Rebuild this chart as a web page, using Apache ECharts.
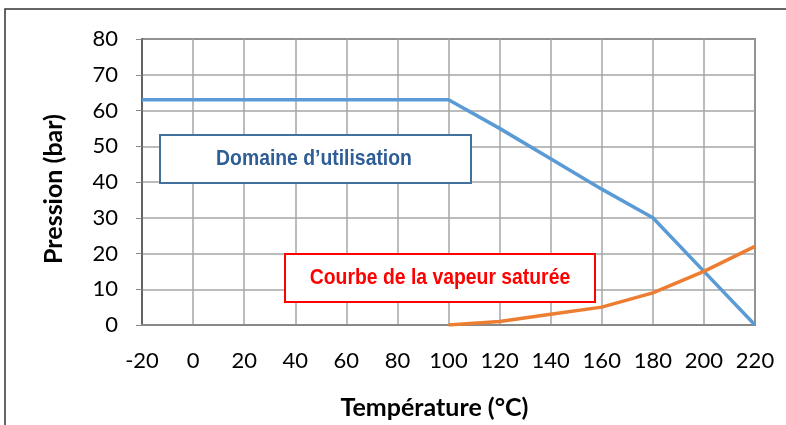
<!DOCTYPE html>
<html><head><meta charset="utf-8">
<script src="https://cdn.jsdelivr.net/npm/echarts@6/dist/echarts.min.js"></script>
<style>html,body{margin:0;padding:0;background:#fff}#c{width:786px;height:425px}</style>
</head><body><div id="c"></div>
<script>
var temperatures = [-20, 0, 20, 40, 60, 80, 100, 120, 140, 160, 180, 200, 220];
var domaineValues = [63, 63, 63, 63, 63, 63, 63, 55, 46.5, 38, 30, 15, 0];
var vapeurTemps = [100, 120, 140, 160, 180, 200, 220];
var vapeurValues = [0, 1, 3, 5, 9, 15, 22];
var xTitle = 'Température (°C)';
var yTitle = 'Pression (bar)';
var label1 = 'Domaine d\u2019utilisation';
var label2 = 'Courbe de la vapeur saturée';

var chart = echarts.init(document.getElementById('c'), null, {renderer: 'canvas'});
var tickFont = 'Lato, "Open Sans", sans-serif';
var narrow = '"Liberation Sans Narrow", "Liberation Sans", Arial, sans-serif';
chart.setOption({
  animation: false,
  backgroundColor: '#fff',
  grid: {left: 142, right: 31, top: 39, bottom: 99, show: true, borderColor: '#222', borderWidth: 1.5},
  xAxis: {
    type: 'value', min: -20, max: 220, interval: 20,
    name: xTitle, nameLocation: 'middle', nameGap: 70,
    nameTextStyle: {fontFamily: tickFont, fontWeight: 'bold', fontSize: 25, color: '#000', padding: [0, 28, 0, 0]},
    axisLine: {show: true, onZero: false, lineStyle: {color: '#888', width: 2}},
    axisTick: {show: false},
    axisLabel: {margin: 25, fontFamily: tickFont, fontSize: 22, color: '#000'},
    splitLine: {show: true, lineStyle: {color: '#a6a6a6', width: 1.5}}
  },
  yAxis: {
    type: 'value', min: 0, max: 80, interval: 10,
    name: yTitle, nameLocation: 'middle', nameGap: 76,
    nameTextStyle: {fontFamily: tickFont, fontWeight: 'bold', fontSize: 25, color: '#000', padding: [0, 14, 0, 0]},
    axisLine: {show: true, onZero: false, lineStyle: {color: '#555', width: 1.5}},
    axisTick: {show: true, length: 6, inside: false, lineStyle: {color: '#888'}},
    axisLabel: {margin: 24, fontFamily: tickFont, fontSize: 22, color: '#000'},
    splitLine: {show: true, lineStyle: {color: '#a6a6a6', width: 1.5}}
  },
  series: [
    {type: 'line', symbol: 'none', data: temperatures.map(function(t, i){return [t, domaineValues[i]];}),
     lineStyle: {color: '#5B9BD5', width: 3.5}, z: 3},
    {type: 'line', symbol: 'none', data: vapeurTemps.map(function(t, i){return [t, vapeurValues[i]];}),
     lineStyle: {color: '#ED7D31', width: 3.5}, z: 4}
  ],
  graphic: [
    {type: 'rect', shape: {x: 5, y: 9, width: 820, height: 440}, style: {fill: null, stroke: '#333', lineWidth: 1.5}, z: 0, silent: true},
    {type: 'rect', shape: {x: 160, y: 135, width: 311, height: 48}, style: {fill: '#fff', stroke: '#41719C', lineWidth: 2}, z: 10},
    {type: 'text', x: 314, y: 159, scaleX: 0.88, style: {text: label1, fill: '#2F5D95', font: 'bold 22px ' + narrow, textAlign: 'center', textVerticalAlign: 'middle'}, z: 11},
    {type: 'rect', shape: {x: 285, y: 254, width: 310, height: 48}, style: {fill: '#fff', stroke: '#FF0000', lineWidth: 2}, z: 10},
    {type: 'text', x: 440, y: 278, scaleX: 0.88, style: {text: label2, fill: '#FF0000', font: 'bold 22px ' + narrow, textAlign: 'center', textVerticalAlign: 'middle'}, z: 11}
  ]
});
</script></body></html>
